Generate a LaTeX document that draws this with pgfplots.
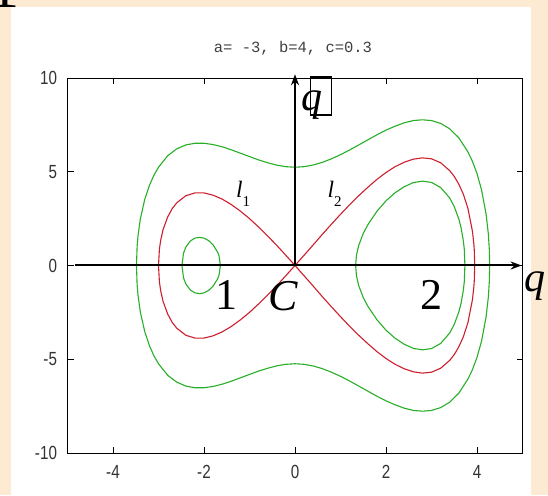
\documentclass[border=0pt]{standalone}
\usepackage{fontspec}
\setmainfont{Liberation Serif}
\newfontfamily\tickfont[FakeStretch=0.8]{Liberation Sans}
\newfontfamily\titlefont{Liberation Mono}
\usepackage{pgfplots}
\pgfplotsset{compat=1.18}
\usetikzlibrary{arrows.meta}

\definecolor{slide}{RGB}{252,235,210}
\definecolor{gpgreen}{RGB}{40,175,40}
\definecolor{gpred}{RGB}{205,30,45}

\begin{document}
\begin{tikzpicture}
\useasboundingbox (0pt,0pt) rectangle (548pt,495pt);
\fill[slide] (0pt,0pt) rectangle (548pt,495pt);
\fill[white] (10.5pt,0pt) rectangle (531pt,488pt);
% fragment of the slide number in the corner
\node[anchor=base, inner sep=0, font=\fontsize{60}{60}\selectfont] at (5pt,487pt) {1};
\node[font=\titlefont\fontsize{15.5}{16}\selectfont, text=black!75] at (293pt,447pt) {a= -3, b=4, c=0.3};

\begin{axis}[
    at={(67.5pt,42pt)}, anchor=south west,
    scale only axis, width=455pt, height=375pt,
    xmin=-5, xmax=5, ymin=-10, ymax=10,
    xtick={-4,-2,0,2,4}, xticklabels={-4,-2,0,2,4},
    ytick={-10,-5,0,5,10}, yticklabels={-10,-5,0,5,10},
    tick align=inside, major tick length=6pt,
    ticklabel style={font=\tickfont\fontsize{19}{19}\selectfont, text=black!80},
    xticklabel style={yshift=-9pt},
    yticklabel style={xshift=-7pt},
    axis line style={line width=0.9pt},
    tick style={line width=0.8pt, black},
    clip=false,
  ]

% outer orbit
\addplot[gpgreen, line width=1.1pt] coordinates {
  (-3.484,0) (-3.47,1.02) (-3.45,1.59) (-3.4,2.47) (-3.3,3.55) (-3.2,4.27) (-3.1,4.82)
  (-3.0,5.24) (-2.8,5.85) (-2.6,6.22) (-2.4,6.43) (-2.2,6.52) (-2.0,6.52) (-1.8,6.45)
  (-1.6,6.33) (-1.4,6.17) (-1.2,5.99) (-1.0,5.81) (-0.8,5.63) (-0.6,5.48) (-0.4,5.35)
  (-0.2,5.27) (0,5.24) (0.2,5.27) (0.4,5.36) (0.6,5.50) (0.8,5.69) (1.0,5.91) (1.2,6.16)
  (1.4,6.43) (1.6,6.70) (1.8,6.97) (2.0,7.22) (2.2,7.43) (2.4,7.61) (2.6,7.73) (2.8,7.77)
  (3.0,7.73) (3.2,7.58) (3.4,7.29) (3.6,6.81) (3.8,6.06) (3.9,5.55) (4.0,4.90) (4.1,4.03)
  (4.2,2.74) (4.25,1.66) (4.27,0.88) (4.279,0)
  (4.27,-0.88) (4.25,-1.66) (4.2,-2.74) (4.1,-4.03) (4.0,-4.90) (3.9,-5.55) (3.8,-6.06)
  (3.6,-6.81) (3.4,-7.29) (3.2,-7.58) (3.0,-7.73) (2.8,-7.77) (2.6,-7.73) (2.4,-7.61)
  (2.2,-7.43) (2.0,-7.22) (1.8,-6.97) (1.6,-6.70) (1.4,-6.43) (1.2,-6.16) (1.0,-5.91)
  (0.8,-5.69) (0.6,-5.50) (0.4,-5.36) (0.2,-5.27) (0,-5.24) (-0.2,-5.27) (-0.4,-5.35)
  (-0.6,-5.48) (-0.8,-5.63) (-1.0,-5.81) (-1.2,-5.99) (-1.4,-6.17) (-1.6,-6.33)
  (-1.8,-6.45) (-2.0,-6.52) (-2.2,-6.52) (-2.4,-6.43) (-2.6,-6.22) (-2.8,-5.85)
  (-3.0,-5.24) (-3.1,-4.82) (-3.2,-4.27) (-3.3,-3.55) (-3.4,-2.47) (-3.45,-1.59)
  (-3.47,-1.02) (-3.484,0)
};

% right well orbit
\addplot[gpgreen, line width=1.1pt] coordinates {
  (1.333,0) (1.35,0.54) (1.4,1.07) (1.5,1.71) (1.6,2.17) (1.8,2.89) (2.0,3.45) (2.2,3.88)
  (2.4,4.20) (2.6,4.42) (2.8,4.50) (3.0,4.43) (3.2,4.16) (3.4,3.60) (3.5,3.14) (3.6,2.48)
  (3.65,2.01) (3.7,1.32) (3.72,0.88) (3.734,0)
  (3.72,-0.88) (3.7,-1.32) (3.65,-2.01) (3.6,-2.48) (3.5,-3.14) (3.4,-3.60) (3.2,-4.16)
  (3.0,-4.43) (2.8,-4.50) (2.6,-4.42) (2.4,-4.20) (2.2,-3.88) (2.0,-3.45) (1.8,-2.89)
  (1.6,-2.17) (1.5,-1.71) (1.4,-1.07) (1.35,-0.54) (1.333,0)
};

% left well orbit
\addplot[gpgreen, line width=1.1pt] coordinates {
  (-2.485,0) (-2.45,0.66) (-2.4,0.98) (-2.3,1.31) (-2.2,1.46) (-2.1,1.50) (-2.0,1.46)
  (-1.9,1.33) (-1.8,1.10) (-1.7,0.71) (-1.67,0.51) (-1.64,0)
  (-1.67,-0.51) (-1.7,-0.71) (-1.8,-1.10) (-1.9,-1.33) (-2.0,-1.46) (-2.1,-1.50)
  (-2.2,-1.46) (-2.3,-1.31) (-2.4,-0.98) (-2.45,-0.66) (-2.485,0)
};

% separatrix
\addplot[gpred, line width=1.1pt] coordinates {
  (0,0) (-0.2,0.54) (-0.4,1.07) (-0.6,1.57) (-0.8,2.05) (-1.0,2.50) (-1.2,2.90) (-1.4,3.25)
  (-1.6,3.54) (-1.8,3.75) (-2.0,3.87) (-2.2,3.87) (-2.4,3.72) (-2.6,3.34) (-2.7,3.03)
  (-2.8,2.58) (-2.9,1.91) (-2.95,1.37) (-2.98,0.88) (-3.0,0)
  (-2.98,-0.88) (-2.95,-1.37) (-2.9,-1.91) (-2.8,-2.58) (-2.7,-3.03) (-2.6,-3.34)
  (-2.4,-3.72) (-2.2,-3.87) (-2.0,-3.87) (-1.8,-3.75) (-1.6,-3.54) (-1.4,-3.25)
  (-1.2,-2.90) (-1.0,-2.50) (-0.8,-2.05) (-0.6,-1.57) (-0.4,-1.07) (-0.2,-0.54) (0,0)
  (0.2,-0.55) (0.4,-1.10) (0.6,-1.66) (0.8,-2.20) (1.0,-2.73) (1.2,-3.24) (1.4,-3.72)
  (1.6,-4.17) (1.8,-4.59) (2.0,-4.96) (2.2,-5.27) (2.4,-5.51) (2.6,-5.67) (2.8,-5.74)
  (3.0,-5.69) (3.2,-5.48) (3.4,-5.06) (3.5,-4.75) (3.6,-4.34) (3.7,-3.80) (3.8,-3.05)
  (3.9,-1.82) (3.93,-1.16) (3.94,-0.82) (3.95,0)
  (3.94,0.82) (3.93,1.16) (3.9,1.82) (3.8,3.05) (3.7,3.80) (3.6,4.34) (3.5,4.75)
  (3.4,5.06) (3.2,5.48) (3.0,5.69) (2.8,5.74) (2.6,5.67) (2.4,5.51) (2.2,5.27) (2.0,4.96)
  (1.8,4.59) (1.6,4.17) (1.4,3.72) (1.2,3.24) (1.0,2.73) (0.8,2.20) (0.6,1.66) (0.4,1.10)
  (0.2,0.55) (0,0)
};

% phase-plane axes
\draw[line width=2pt, -{Stealth[length=11pt,width=8pt]}] (axis cs:-4.83,0) -- (axis cs:4.98,0);
\draw[line width=2pt, -{Stealth[length=11pt,width=8pt]}] (axis cs:0,0) -- (axis cs:0,10.2);

\node[anchor=base west, inner sep=0, font=\fontsize{42}{42}\selectfont] at (axis cs:5.03,-1.41) {\textit{q}};
\node[anchor=base west, inner sep=0, font=\fontsize{42}{42}\selectfont] at (axis cs:0.14,8.24) {\textit{q}};
\draw[line width=1.5pt] (axis cs:0.34,8.03) rectangle (axis cs:0.80,10.05);

\node[anchor=base west, inner sep=0, font=\fontsize{23.5}{24}\selectfont] at (axis cs:-1.30,3.6)
  {\textit{l}\raisebox{-9pt}{\fontsize{15}{15}\selectfont 1}};
\node[anchor=base west, inner sep=0, font=\fontsize{23.5}{24}\selectfont] at (axis cs:0.71,3.6)
  {\textit{l}\raisebox{-9pt}{\fontsize{15}{15}\selectfont 2}};

\node[anchor=base, inner sep=0, font=\fontsize{44}{44}\selectfont] at (axis cs:-1.50,-2.37) {1};
\node[anchor=base, inner sep=0, font=\fontsize{44}{44}\selectfont] at (axis cs:-0.26,-2.40) {\textit{C}};
\node[anchor=base, inner sep=0, font=\fontsize{44}{44}\selectfont] at (axis cs:3.0,-2.37) {2};
\end{axis}
\end{tikzpicture}
\end{document}
